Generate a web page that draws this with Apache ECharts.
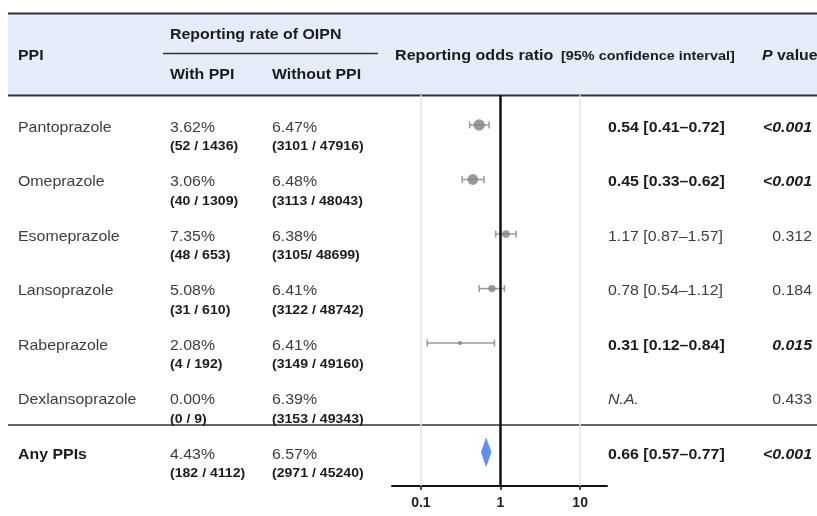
<!DOCTYPE html>
<html>
<head>
<meta charset="utf-8">
<script src="https://cdn.jsdelivr.net/npm/echarts@6/dist/echarts.min.js"></script>
<style>
  html, body { margin: 0; padding: 0; background: #fff; }
  #main { width: 817px; height: 516px; }
</style>
</head>
<body>
<div id="main"></div>
<script>
// table data
const drugs = ['Pantoprazole', 'Omeprazole', 'Esomeprazole', 'Lansoprazole', 'Rabeprazole', 'Dexlansoprazole', 'Any PPIs'];
const withPct = ['3.62%', '3.06%', '7.35%', '5.08%', '2.08%', '0.00%', '4.43%'];
const withFrac = ['(52 / 1436)', '(40 / 1309)', '(48 / 653)', '(31 / 610)', '(4 / 192)', '(0 / 9)', '(182 / 4112)'];
const withTotal = [1436, 1309, 653, 610, 192, 9, 4112];
const withoutPct = ['6.47%', '6.48%', '6.38%', '6.41%', '6.41%', '6.39%', '6.57%'];
const withoutFrac = ['(3101 / 47916)', '(3113 / 48043)', '(3105/ 48699)', '(3122 / 48742)', '(3149 / 49160)', '(3153 / 49343)', '(2971 / 45240)'];
const orValue = [0.54, 0.45, 1.17, 0.78, 0.31, null, 0.66];
const ciLow = [0.41, 0.33, 0.87, 0.54, 0.12, null, 0.57];
const ciHigh = [0.72, 0.62, 1.57, 1.12, 0.84, null, 0.77];
const pLabel = ['<0.001', '<0.001', '0.312', '0.184', '0.015', '0.433', '<0.001'];
const significant = [true, true, false, false, true, false, true];
const xTicks = [0.1, 1, 10];

const FONT = '"Liberation Sans", Arial, sans-serif';
const SX = 1.06; // source image is slightly stretched sideways

// plot geometry
const gridTop = 95, gridBottom = 486;
const yMin = -0.55, yMax = 6.62;
function rowPx(i) {
  return gridTop + (i - yMin) / (yMax - yMin) * (gridBottom - gridTop);
}

function txt(x, y, s, o) {
  o = o || {};
  const parts = [];
  if (o.italic) parts.push('italic');
  if (o.bold) parts.push('bold');
  parts.push((o.size || 15) + 'px');
  parts.push(FONT);
  return {
    type: 'text', x: x, y: y, scaleX: SX, z: 10,
    style: {
      text: s,
      font: parts.join(' '),
      fill: o.color || (o.bold ? '#1b1b1b' : '#3d3d3d'),
      align: o.align || 'left',
      verticalAlign: 'middle'
    }
  };
}
function hline(x1, x2, y, w, c) {
  return { type: 'line', z: 5, shape: { x1: x1, y1: y, x2: x2, y2: y }, style: { stroke: c || '#222', lineWidth: w } };
}

// graphic: header + table text
const graphics = [
  { type: 'rect', z: 1, shape: { x: 8, y: 14, width: 809, height: 81 }, style: { fill: '#e5ecfa' } },
  hline(8, 817, 13.5, 2, '#333'),
  hline(8, 817, 95.5, 2, '#333'),
  hline(163, 378, 53.5, 1.5, '#333'),
  hline(8, 817, 425, 1.5, '#333'),
  txt(18, 56, 'PPI', { bold: true }),
  txt(170, 35, 'Reporting rate of OIPN', { bold: true }),
  txt(170, 75, 'With PPI', { bold: true }),
  txt(272, 75, 'Without PPI', { bold: true }),
  txt(395, 56, 'Reporting odds ratio', { bold: true, size: 15.2 }),
  txt(561, 56, '[95% confidence interval]', { bold: true, size: 13.6 }),
  txt(762, 56, 'P', { bold: true, italic: true }),
  txt(777, 56, 'value', { bold: true })
];

drugs.forEach(function (name, i) {
  const y = rowPx(i) + 2.5;
  const last = i === drugs.length - 1;
  graphics.push(txt(18, y, name, { bold: last }));
  graphics.push(txt(170, y, withPct[i]));
  graphics.push(txt(170, y + 19, withFrac[i], { bold: true, size: 13.3 }));
  graphics.push(txt(272, y, withoutPct[i]));
  graphics.push(txt(272, y + 19, withoutFrac[i], { bold: true, size: 13.3 }));
  const orText = orValue[i] == null ? 'N.A.' :
    orValue[i].toFixed(2) + ' [' + ciLow[i].toFixed(2) + '\u2013' + ciHigh[i].toFixed(2) + ']';
  graphics.push(txt(608, y, orText, { bold: significant[i], italic: orValue[i] == null }));
  graphics.push(txt(812, y, pLabel[i], { bold: significant[i], italic: significant[i], align: 'right' }));
});

// series data in log10 space
const ciData = [], dotData = [], sumData = [];
drugs.forEach(function (name, i) {
  if (orValue[i] == null) return;
  const row = [Math.log10(orValue[i]), i, Math.log10(ciLow[i]), Math.log10(ciHigh[i]), withTotal[i]];
  if (i === drugs.length - 1) sumData.push(row);
  else { ciData.push(row); dotData.push(row); }
});

const chart = echarts.init(document.getElementById('main'));
chart.setOption({
  animation: false,
  backgroundColor: '#fff',
  graphic: graphics,
  grid: { left: 392, right: 210, top: gridTop, bottom: 516 - gridBottom, outerBoundsMode: 'none' },
  xAxis: {
    type: 'value',
    min: -1.3625, max: 1.3375,
    axisLine: { show: true, onZero: false, lineStyle: { color: '#111', width: 2 } },
    axisTick: { show: true, customValues: xTicks.map(Math.log10), length: 4, lineStyle: { color: '#111', width: 1.5 } },
    axisLabel: {
      customValues: xTicks.map(Math.log10),
      formatter: function (v) { return String(+Math.pow(10, v).toPrecision(3)); },
      fontFamily: 'Liberation Sans', fontWeight: 'bold', fontSize: 14, color: '#222', margin: 10
    },
    splitLine: { show: false }
  },
  yAxis: { type: 'value', min: yMin, max: yMax, inverse: true, show: false },
  series: [
    {
      type: 'custom',
      name: 'ci',
      data: ciData,
      encode: { x: [0, 2, 3], y: 1 },
      renderItem: function (params, api) {
        const lo = api.coord([api.value(2), api.value(1)]);
        const hi = api.coord([api.value(3), api.value(1)]);
        const st = { stroke: '#9a9a9a', lineWidth: 1.5 };
        return {
          type: 'group',
          children: [
            { type: 'line', shape: { x1: lo[0], y1: lo[1], x2: hi[0], y2: hi[1] }, style: st },
            { type: 'line', shape: { x1: lo[0], y1: lo[1] - 3.5, x2: lo[0], y2: lo[1] + 3.5 }, style: st },
            { type: 'line', shape: { x1: hi[0], y1: hi[1] - 3.5, x2: hi[0], y2: hi[1] + 3.5 }, style: st }
          ]
        };
      },
      z: 3,
      markLine: {
        silent: true,
        symbol: 'none',
        label: { show: false },
        data: [
          { xAxis: Math.log10(xTicks[0]), lineStyle: { color: '#e4e4e4', width: 1.5, type: 'solid' } },
          { xAxis: Math.log10(xTicks[2]), lineStyle: { color: '#e4e4e4', width: 1.5, type: 'solid' } },
          { xAxis: Math.log10(xTicks[1]), lineStyle: { color: '#111', width: 2.5, type: 'solid' } }
        ]
      }
    },
    {
      type: 'scatter',
      data: dotData,
      encode: { x: 0, y: 1 },
      symbol: 'circle',
      symbolSize: function (v) { return Math.sqrt(v[4]) * 0.3; },
      itemStyle: { color: '#818181' },
      z: 4
    },
    {
      type: 'custom',
      data: sumData,
      encode: { x: [0, 2, 3], y: 1 },
      renderItem: function (params, api) {
        const c = api.coord([api.value(0), api.value(1)]);
        const lo = api.coord([api.value(2), api.value(1)]);
        const hi = api.coord([api.value(3), api.value(1)]);
        return {
          type: 'polygon',
          shape: { points: [[lo[0], c[1]], [c[0], c[1] - 15], [hi[0], c[1]], [c[0], c[1] + 15]] },
          style: { fill: '#5b8ff2' }
        };
      },
      z: 4
    }
  ]
});
</script>
</body>
</html>
